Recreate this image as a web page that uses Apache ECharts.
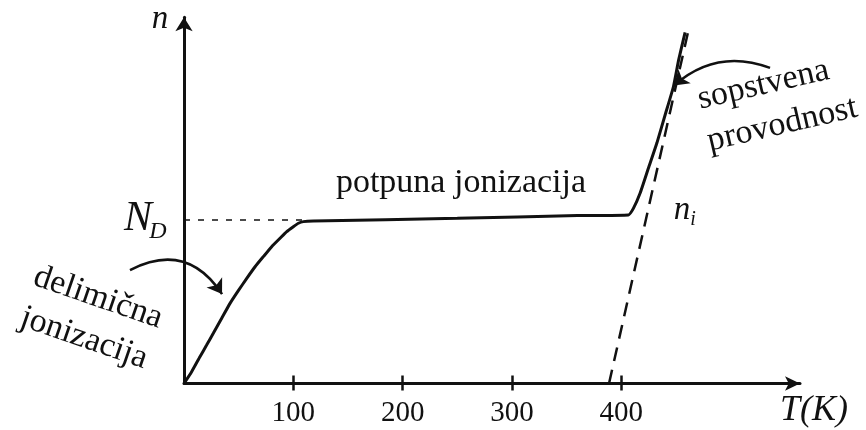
<!DOCTYPE html>
<html>
<head>
<meta charset="utf-8">
<script src="https://cdn.jsdelivr.net/npm/echarts@6/dist/echarts.min.js"></script>
<style>html,body{margin:0;padding:0;background:#fff}#c{width:866px;height:430px}</style>
</head>
<body>
<div id="c"></div>
<script>
// ---- data ----
const curveT = [0, 7.0, 14.6, 20.7, 26.8, 34.5, 42.1, 49.7, 57.4, 65.0, 72.6, 80.2, 87.8, 94.0, 100, 104.6, 109.2, 118.3, 250, 360, 406.5, 411.1, 417.2, 424.8, 432.5, 440.1, 447.7, 452.5, 458.4];
const curveN = [0, 0.072, 0.164, 0.235, 0.307, 0.399, 0.490, 0.568, 0.643, 0.714, 0.776, 0.837, 0.888, 0.929, 0.959, 0.980, 0.990, 0.994, 1.010, 1.027, 1.031, 1.071, 1.163, 1.316, 1.469, 1.642, 1.815, 1.979, 2.148];
const niT = [388.8, 461.1];
const niN = [0, 2.15];
const ndT = [0, 115];
const ndN = [1, 1];
const tickValues = [100, 200, 300, 400];
const arrowDelim = [[-49.4, 0.694], [34.8, 0.547]];
const arrowSops = [[536.1, 1.930], [448.3, 1.823]];

const FONT = 'Liberation Serif';
const X_MAX = 563.5, Y_MAX = 2.24;
const gridTop = 383.5 - Y_MAX * 163.5, gridBottom = 46.5;
const gridH = 430 - gridTop - gridBottom;

const chart = echarts.init(document.getElementById('c'), null, {renderer: 'canvas'});
const zip = (a, b) => a.map((v, i) => [v, b[i]]);

const option = {
  animation: false,
  backgroundColor: '#fff',
  grid: {left: 184, right: 866 - 800, top: gridTop, bottom: gridBottom, containLabel: false},
  xAxis: [{
    type: 'value', min: 0, max: X_MAX, interval: 100, position: 'bottom',
    splitLine: {show: false},
    axisLine: {show: true, onZero: false, lineStyle: {color: '#111', width: 3},
      symbol: ['none', 'arrow'], symbolSize: [11, 15]},
    axisTick: {show: true, inside: false, length: 7, lineStyle: {color: '#111', width: 2.5}, customValues: tickValues},
    axisLabel: {show: true, margin: 15, color: '#111', fontFamily: FONT, fontSize: 29, customValues: tickValues}
  }, {
    type: 'value', min: 0, max: X_MAX, interval: 100, position: 'top', offset: -gridH,
    splitLine: {show: false},
    axisLine: {show: false},
    axisTick: {show: true, inside: false, length: 8, lineStyle: {color: '#111', width: 2.5}, customValues: tickValues},
    axisLabel: {show: false}
  }],
  yAxis: {
    type: 'value', min: 0, max: Y_MAX,
    splitLine: {show: false},
    axisLine: {show: true, onZero: false, lineStyle: {color: '#111', width: 3},
      symbol: ['none', 'arrow'], symbolSize: [13, 14]},
    axisTick: {show: false},
    axisLabel: {show: false}
  },
  series: [{
    type: 'line', data: zip(ndT, ndN), showSymbol: false, symbol: 'none',
    lineStyle: {color: '#111', width: 1.5, type: [6, 8]}, z: 1
  }, {
    type: 'line', data: zip(niT, niN), showSymbol: false, symbol: 'none',
    lineStyle: {color: '#111', width: 2.5, type: [14, 9]}, z: 2
  }, {
    type: 'line', data: zip(curveT, curveN), showSymbol: false, symbol: 'none',
    smooth: 0.15,
    lineStyle: {color: '#111', width: 3}, z: 3
  }, {
    type: 'lines', coordinateSystem: 'cartesian2d', clip: false,
    symbol: ['none', 'arrow'], symbolSize: 14,
    lineStyle: {color: '#111', width: 2.5, curveness: 0.45, opacity: 1},
    data: [{coords: arrowDelim}], z: 4
  }, {
    type: 'lines', coordinateSystem: 'cartesian2d', clip: false,
    symbol: ['none', 'arrow'], symbolSize: 14,
    lineStyle: {color: '#111', width: 2.5, curveness: -0.3, opacity: 1},
    data: [{coords: arrowSops}], z: 4
  }],
  graphic: [
    {type: 'text', x: 160, y: 19, style: {text: 'n', fontFamily: FONT, fontStyle: 'italic', fontSize: 33, fill: '#111', align: 'center', verticalAlign: 'middle'}},
    {type: 'text', x: 138, y: 219, style: {text: 'N', fontFamily: FONT, fontStyle: 'italic', fontSize: 42, fill: '#111', align: 'center', verticalAlign: 'middle'}},
    {type: 'text', x: 158, y: 232, style: {text: 'D', fontFamily: FONT, fontStyle: 'italic', fontSize: 24, fill: '#111', align: 'center', verticalAlign: 'middle'}},
    {type: 'text', x: 461, y: 183, style: {text: 'potpuna jonizacija', fontFamily: FONT, fontSize: 34, fill: '#111', align: 'center', verticalAlign: 'middle'}},
    {type: 'text', x: 682, y: 210, style: {text: 'n', fontFamily: FONT, fontStyle: 'italic', fontSize: 33, fill: '#111', align: 'center', verticalAlign: 'middle'}},
    {type: 'text', x: 693, y: 220, style: {text: 'i', fontFamily: FONT, fontStyle: 'italic', fontSize: 20, fill: '#111', align: 'center', verticalAlign: 'middle'}},
    {type: 'text', x: 814, y: 411, style: {text: 'T(K)', fontFamily: FONT, fontStyle: 'italic', fontSize: 36, fill: '#111', align: 'center', verticalAlign: 'middle'}},
    {type: 'text', x: 91, y: 318, rotation: -0.332, style: {text: 'delimična\njonizacija', fontFamily: FONT, fontSize: 34, lineHeight: 43, fill: '#111', align: 'center', verticalAlign: 'middle'}},
    {type: 'text', x: 703, y: 121, rotation: 0.227, style: {text: 'sopstvena\nprovodnost', fontFamily: FONT, fontSize: 34, lineHeight: 43, fill: '#111', align: 'left', verticalAlign: 'middle'}}
  ]
};
chart.setOption(option);
</script>
</body>
</html>
